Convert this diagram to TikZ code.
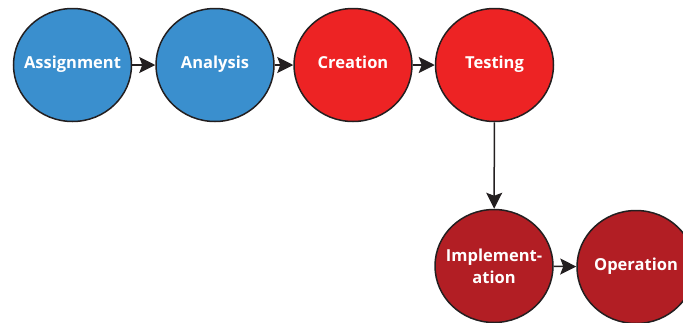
\documentclass[tikz,border=0pt]{standalone}
\usepackage{fontspec}
\setmainfont{Open Sans}
\usetikzlibrary{shapes.geometric,arrows.meta}
\definecolor{cblue}{RGB}{58,143,206}
\definecolor{cred}{RGB}{237,35,36}
\definecolor{cdark}{RGB}{178,30,36}
\definecolor{cline}{RGB}{35,31,32}
\tikzset{
  phase/.style={ellipse, draw=cline, line width=1.5pt, minimum width=118pt, minimum height=113pt,
    inner xsep=-20pt, inner ysep=0pt,
    text=white, font=\bfseries\fontsize{16.5}{22}\selectfont, align=center},
  oneline/.style={text height=11pt, text depth=4pt},
  flow/.style={draw=cline, line width=1.5pt, -{Stealth[length=16pt,width=16pt,inset=3pt]}}
}
\begin{document}
\begin{tikzpicture}[x=1pt,y=1pt]
\useasboundingbox (0,0) rectangle (683,-322);
\node[phase, oneline, fill=cblue] (a) at (72.5,-65) {Assignment};
\node[phase, oneline, fill=cblue] (b) at (215,-65) {Analysis};
\node[phase, oneline, fill=cred] (c) at (353,-65) {Creation};
\node[phase, oneline, fill=cred] (d) at (494.5,-65) {Testing};
\node[phase, fill=cdark] (e) at (494,-266) {Implement-\\ation};
\node[phase, oneline, fill=cdark] (f) at (636,-267) {Operation};
\draw[flow] (a) -- (b);
\draw[flow] (b) -- (c);
\draw[flow] (c) -- (d);
\draw[flow] (d) -- (e);
\draw[flow] (e) -- (f);
\end{tikzpicture}
\end{document}
